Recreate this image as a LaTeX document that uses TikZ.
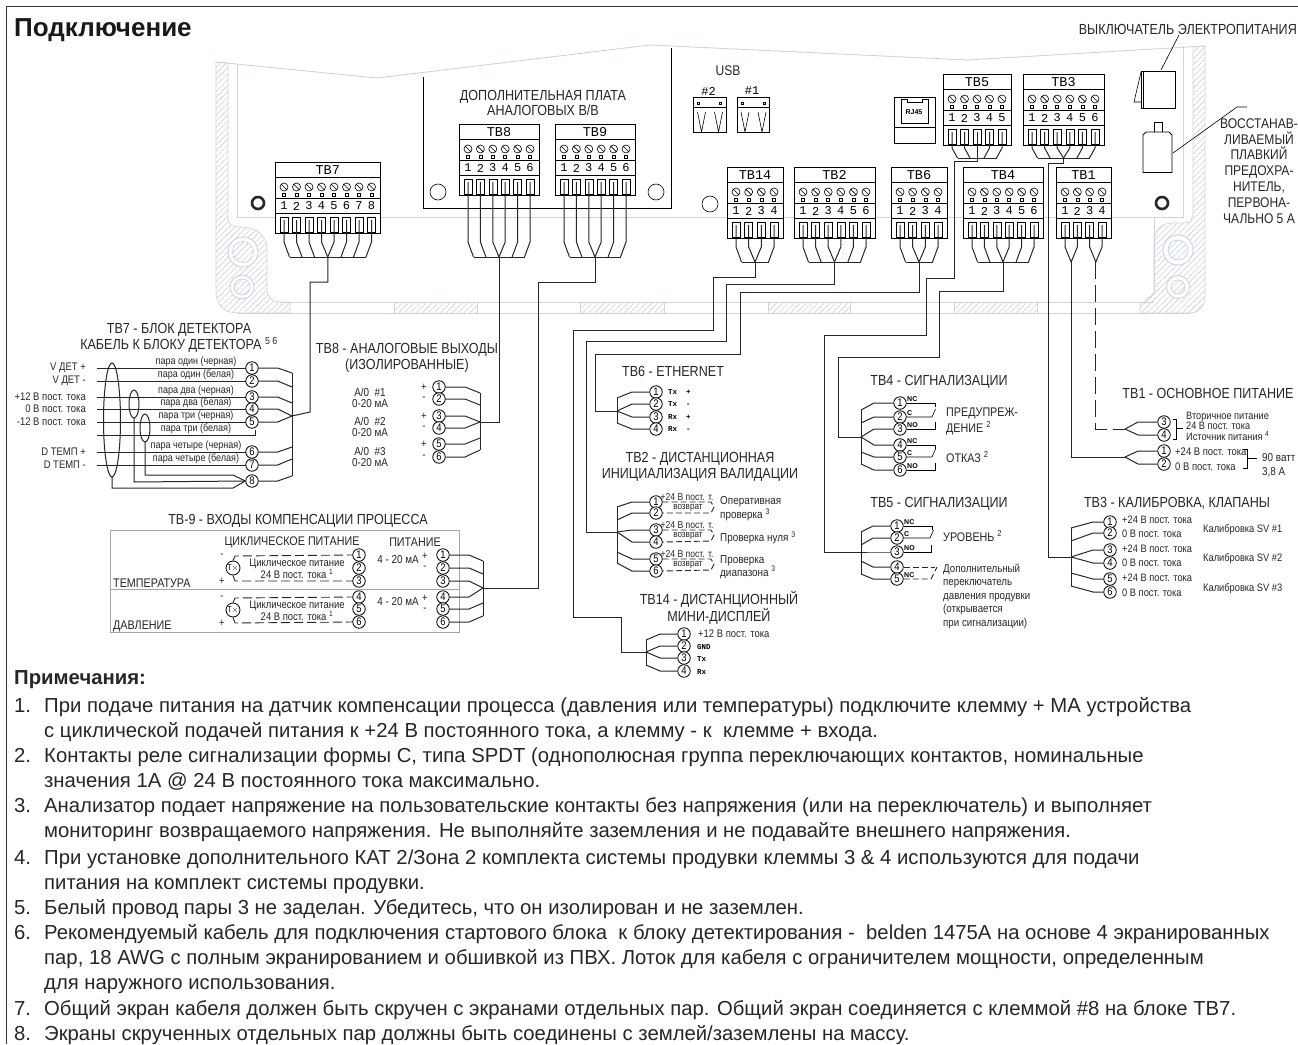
\documentclass[tikz,border=0pt]{standalone}
\usepackage{fontspec}
\setmainfont{Liberation Sans}
\newfontfamily\narrowfont[FakeStretch=0.86]{Liberation Sans}
\newfontfamily\tbfont{Liberation Mono}
\usetikzlibrary{calc,patterns.meta}
\definecolor{housing}{HTML}{CBD4DF}
\newcommand{\tbblock}[6]{%
	\pgfmathsetmacro{\tbpitch}{(#4-#3-18)/(#6-1)}
	\draw[tbline,fill=white] (#3,#5) rectangle (#4,#5+71);
	\draw[tbline] (#3,#5+15) -- (#4,#5+15) (#3,#5+36) -- (#4,#5+36) (#3,#5+51) -- (#4,#5+51);
	\node (#1) [tbtitle] at ({(#3+#4)/2},#5+8) {#2};
	\foreach \k in {1,...,#6} {
		\pgfmathsetmacro{\px}{#3+9+(\k-1)*\tbpitch}
		\draw[thinline] (\px,#5+25) circle [radius=4pt] (\px-2.8,#5+22.2) -- (\px+2.8,#5+27.8);
		\draw[thinline] (\px-1.5,#5+31.5) rectangle (\px+1.5,#5+34.5);
		\node (#1n\k) [tbnum] at (\px,#5+44) {\k};
		\draw[thinline] (\px-4,#5+55) rectangle (\px+4,#5+70);
		\coordinate (#1p\k) at (\px,#5+58);
	}
}
\newcommand{\tbfan}[4]{%
	\coordinate (#1c) at ($(#1p1)!.5!(#1p#2)$);
	\coordinate (#1b) at (#1c |- 0,#4);
	\pgfmathsetmacro{\tbmid}{(#2+1)/2}
	\foreach \k in {1,...,#2} {
		\pgfmathsetmacro{\off}{abs(\k-\tbmid)<1 ? (\tbmid-\k)*\tbpitch : (\k<\tbmid ? 5.5 : -5.5)}
		\draw[wire] (#1p\k) -- (#1p\k |- 0,#3) -- ++(\off,#4-#3);
	}
	\draw[wire] ($(#1p1 |- #1b)+(5.5,0)$) -- ($(#1p#2 |- #1b)+(-5.5,0)$);
}
\begin{document}
\begin{tikzpicture}[x=1pt,y=-1pt,
	tbline/.style={draw=black,line width=.9pt},
	thinline/.style={draw=black,line width=.6pt},
	wire/.style={draw=black!85,line width=1pt},
	dashwire/.style={draw=black!85,line width=.9pt,dash pattern=on 9pt off 4pt},
	shell/.style={draw=housing,line width=.9pt},
	hatch/.style={draw=housing,line width=.7pt,pattern={Lines[angle=45,distance=4.2pt,line width=.6pt]},pattern color=housing},
	tbtitle/.style={font=\tbfont\fontsize{13.5}{14}\selectfont,inner sep=0pt},
	tbnum/.style={font=\tbfont\fontsize{12}{12}\selectfont,inner sep=0pt},
	term/.style={circle,draw=black,line width=.8pt,fill=white,inner sep=0pt,minimum size=12.5pt,font=\narrowfont\fontsize{11}{11}\selectfont},
	head/.style={font=\narrowfont\fontsize{14.6}{16}\selectfont,text=black!85,inner sep=0pt,align=center},
	wlabel/.style={font=\narrowfont\fontsize{11}{12}\selectfont,text=black!85,inner sep=0pt},
	pairlabel/.style={font=\narrowfont\fontsize{10.5}{11}\selectfont,text=black!85,inner sep=0pt},
	tinylabel/.style={font=\tbfont\bfseries\fontsize{7.5}{8}\selectfont,inner sep=0pt},
	note/.style={font=\fontsize{20.3}{22}\selectfont,text=black!85,inner sep=0pt,anchor=base west}]
	\useasboundingbox (0,0) rectangle (1298,1044);
	\draw[black!80,line width=1.3pt] (6.5,1044) -- (6.5,6.5) -- (1298,6.5);
	\node (title) [font=\bfseries\fontsize{26}{28}\selectfont,text=black!90,inner sep=0pt,anchor=base west] at (14,36) {Подключение};

	\draw[hatch] (216,62) -- (228,63) -- (228,218) .. controls (228,224) and (232,227) .. (240,227) .. controls (258,227) and (267,236) .. (267,250) -- (267,290) .. controls (267,297) and (272,302) .. (280,302) -- (290,302) -- (290,313) -- (238,313) .. controls (224,313) and (216,305) .. (216,292) -- cycle;
	\draw[hatch] (1205,46) -- (1193,47) -- (1193,212) .. controls (1193,220) and (1190,223) .. (1184,223) -- (1172,223) .. controls (1162,223) and (1154,230) .. (1154,242) -- (1154,293) -- (1140,305) -- (1140,313) -- (1190,313) .. controls (1200,313) and (1205,305) .. (1205,295) -- cycle;
	\foreach \xa/\xb in {394/477,580/664,768/850,954/1037}
		\draw[hatch] (\xa,302) rectangle (\xb,313);
	\draw[shell] (216,62) -- (377,78) -- (650,45) -- (967,60) -- (1205,46);
	\draw[shell] (238,313) -- (1190,313) (280,302) -- (1154,302);
	\draw[shell] (237,65) -- (237,217) -- (1183,217) -- (1183,46) (1154,217) -- (1154,293);
	\foreach \cx/\cy/\ra/\rb in {243/252/15/10.5,242/287/12/8,1178/250/15/10,1178/287/11.5/7} {
		\draw[shell,fill=white] (\cx,\cy) circle [radius=\ra pt];
		\draw[hatch] (\cx,\cy) circle [radius=\rb pt];
	}
	\foreach \cx in {258,1162}
		\draw[black!85,line width=2.6pt] (\cx,203) circle [radius=6pt];

	\draw[tbline] (423,77) -- (423,208) -- (671.5,208) -- (671.5,48);
	\foreach \cx/\cy in {438/192,656/192,710/204}
		\draw[thinline] (\cx,\cy) circle [radius=8pt];

	\node (usb) [wlabel,font=\narrowfont\fontsize{14}{15}\selectfont] at (728,71) {USB};
	\foreach \bx/\bl in {693.5/2,737/1} {
		\node (usb\bl) [tbnum] at (\bx+15,91) {\#\bl};
		\draw[thinline] (\bx,97) rectangle ++(32.5,35) (\bx,107) -- ++(32.5,0);
		\draw[thinline] (\bx+4,102) rectangle ++(2,2) (\bx+26,102) rectangle ++(2,2);
		\draw[thinline] (\bx+4,112) -- ++(4,20) -- ++(4,-20) (\bx+21,112) -- ++(4,20) -- ++(4,-20);
	}
	\draw[thinline] (894.5,97) rectangle (935,143) (894.5,127) -- (935,127);
	\draw[thinline] (901,99) -- (907,99) -- (907,102) -- (922,102) -- (922,99) -- (928,99) -- (928,123) -- (901,123) -- cycle;
	\node (rj) [tinylabel,font=\bfseries\fontsize{7}{8}\selectfont] at (914,112) {RJ45};

	\node (swlabel) [wlabel,font=\narrowfont\fontsize{14.6}{16}\selectfont,anchor=east] at (1297,29) {ВЫКЛЮЧАТЕЛЬ ЭЛЕКТРОПИТАНИЯ};
	\draw[tbline] (1141,71) rectangle (1175,108) (1143,71) -- (1143,108);
	\draw[thinline] (1141,72) -- (1134,102) -- (1141,102);
	\coordinate (swtop) at (1161,70);
	\draw[thinline] (1179,35) -- (swtop);
	\draw[tbline] (1143,172.5) -- (1143,135) -- (1146,132) -- (1169,132) -- (1172,135) -- (1172,172.5) -- cycle;
	\draw[tbline] (1154,132) -- (1154,122) -- (1162,122) -- (1162,132);
	\coordinate (fuse) at (1173,153);
	\draw[thinline] (1247,107) -- (1237,107) -- (fuse);
	\node (fuselabel) [wlabel,font=\narrowfont\fontsize{14}{15.9}\selectfont,align=center] at (1259,171) {ВОССТАНАВ-\\ЛИВАЕМЫЙ\\ПЛАВКИЙ\\ПРЕДОХРА-\\НИТЕЛЬ,\\ПЕРВОНА-\\ЧАЛЬНО 5 А};
	\node (optboard) [head,font=\narrowfont\fontsize{14.6}{15.5}\selectfont] at (543,103) {ДОПОЛНИТЕЛЬНАЯ ПЛАТА\\АНАЛОГОВЫХ В/В};

	\tbblock{tbseven}{TB7}{275}{380.5}{162}{8}
	\tbfan{tbseven}{8}{242}{257}
	\tbblock{tbeight}{TB8}{459}{539}{124}{6}
	\tbfan{tbeight}{6}{242}{257}
	\tbblock{tbnine}{TB9}{555}{635}{124}{6}
	\tbfan{tbnine}{6}{242}{257}
	\tbblock{tbfive}{TB5}{943}{1011}{74}{5}
	\tbfan{tbfive}{5}{148}{158}
	\tbblock{tbthree}{TB3}{1023}{1104}{74}{6}
	\tbfan{tbthree}{6}{148}{158}
	\tbblock{tbfourteen}{TB14}{727}{783}{167}{4}
	\tbfan{tbfourteen}{4}{247}{262}
	\tbblock{tbtwo}{TB2}{794}{875}{167}{6}
	\tbfan{tbtwo}{6}{247}{262}
	\tbblock{tbsix}{TB6}{891}{947}{167}{4}
	\tbfan{tbsix}{4}{247}{262}
	\tbblock{tbfour}{TB4}{963}{1043}{167}{6}
	\tbfan{tbfour}{6}{247}{262}
	\tbblock{tbone}{TB1}{1056}{1111}{167}{4}
	\coordinate (tbonea) at ($(tbonep1)!.5!(tbonep2)+(0,37)$);
	\coordinate (tboneb) at ($(tbonep3)!.5!(tbonep4)+(0,37)$);
	\draw[wire] (tbonep1) -- (tbonep1 |- 0,247) -- (tbonea) -- (tbonep2 |- 0,247) -- (tbonep2);
	\draw[wire] (tbonep3) -- (tbonep3 |- 0,247) -- (tboneb) -- (tbonep4 |- 0,247) -- (tbonep4);

	\node (seventitle) [head] at (179,338) {TB7 - БЛОК ДЕТЕКТОРА\\КАБЕЛЬ К БЛОКУ ДЕТЕКТОРА \textsuperscript{5 6}};
	\foreach \y/\k/\lab in {368/1/{V ДЕТ +},381/2/{V ДЕТ -},397/3/{+12 В пост. тока},409/4/{0 В пост. тока},422/5/{-12 В пост. тока},452/6/{D ТЕМП +},465/7/{D ТЕМП -}} {
		\node (dets\k) [wlabel,anchor=east] at (86,\y) {\lab};
		\coordinate (dete\k) at (97,\y);
	}
	\coordinate (detw) at (97,435);
	\coordinate (dethook) at (255,430);
	\draw[wire] (detw) -- (dethook |- detw) -- (dethook);
	\foreach \y/\k in {368/1,381/2,397/3,409/4,422/5,452/6,465/7}
		\draw[wire] (dete\k) -- (252,\y);
	\foreach \y/\k/\lab in {368/1/{пара один (черная)},381/2/{пара один (белая)},397/3/{пара два (черная)},409/4/{пара два (белая)},422/5/{пара три (черная)},452/6/{пара четыре (черная)},465/7/{пара четыре (белая)},481/8/{}} {
		\node (det\k) [term] at (252,\y) {\k};
		\node (detl\k) [pairlabel] at (196,\y-6) {\lab};
	}
	\node (detl9) [pairlabel] at (196,429) {пара три (белая)};
	\foreach \k/\ya in {1/373,2/387,3/403,6/447,7/459,8/476}
		\draw[wire] (det\k.east) -- ++(19,0) -- (292,\ya);
	\coordinate (detbus) at (292,416);
	\draw[wire] (292,373) -- (292,476);
	\foreach \k in {4,5}
		\draw[wire] (det\k.east) -- ++(19,0) -- (detbus);
	\draw[wire] (112,420) ellipse [x radius=8.5pt,y radius=57pt];
	\draw[wire] (134,404) ellipse [x radius=5pt,y radius=14pt];
	\draw[wire] (145,428) ellipse [x radius=5pt,y radius=14pt];
	\draw[wire] (112,477) -- (112,488) -- (233,488) -- (det8.west);
	\draw[wire] (134,418) -- (134,482) -- (det8.west);
	\draw[wire] (145,442) -- (145,475) -- (233,475) -- (det8.west);
	\draw[wire] (tbsevenb) -- (tbsevenb |- 0,282) -- (310,282) -- (310,412) -- (detbus);

	\node (eighttitle) [head] at (407,358) {TB8 - АНАЛОГОВЫЕ ВЫХОДЫ\\(ИЗОЛИРОВАННЫЕ)};
	\foreach \y/\k/\sg in {387/1/+,399/2/-,416/3/+,428/4/-,444/5/+,457/6/-} {
		\node (aout\k) [term] at (439,\y) {\k};
		\node (aouts\k) [wlabel] at (424,\y) {\sg};
	}
	\foreach \y/\k in {398/1,427/2,457/3}
		\node (aoname\k) [wlabel,align=center,font=\narrowfont\fontsize{11.5}{11.5}\selectfont] at (370,\y) {А/0 \ \#\k\\0-20 мА};
	\coordinate (aobus) at (480,422);
	\foreach \k/\ya in {1/393,2/405,3/422,4/422,5/438,6/450}
		\draw[wire] (aout\k.east) -- (465,0 |- aout\k) -- (480,\ya);
	\draw[wire] (480,393) -- (480,450);
	\draw[wire] (tbeightb) -- (tbeightb |- aobus) -- (aobus);

	\node (ninetitle) [head] at (298,521) {TB-9 - ВХОДЫ КОМПЕНСАЦИИ ПРОЦЕССА};
	\draw[draw=black!35,line width=.9pt] (110,530) rectangle (459,632) (110,589) -- (459,589);
	\node (cyc) [wlabel,font=\narrowfont\fontsize{12.5}{14}\selectfont] at (292,542) {ЦИКЛИЧЕСКОЕ ПИТАНИЕ};
	\node (pow) [wlabel,font=\narrowfont\fontsize{12.5}{14}\selectfont] at (415,542) {ПИТАНИЕ};
	\node (temp) [wlabel,font=\narrowfont\fontsize{12.5}{14}\selectfont,anchor=west] at (113,583) {ТЕМПЕРАТУРА};
	\node (press) [wlabel,font=\narrowfont\fontsize{12.5}{14}\selectfont,anchor=west] at (113,626) {ДАВЛЕНИЕ};
	\foreach \y/\k/\ya in {555/1/561,568/2/574,581/3/588,597/4/588,609/5/603,622/6/616} {
		\node (loop\k) [term] at (359,\y) {\k};
		\node (inp\k) [term] at (443,\y) {\k};
		\draw[wire] (inp\k.east) -- (469,\y) -- (483,\ya);
	}
	\draw[wire] (483,561) -- (483,616);
	\coordinate (ninebus) at (483,588);
	\draw[wire] (tbnineb) -- (tbnineb |- 0,282) -- (538,282) -- (538,588) -- (ninebus);
	\foreach \cy/\a/\b/\na in {568/1/3/a,610/4/6/b} {
		\node (tx\na) [term,font=\narrowfont\fontsize{8.5}{9}\selectfont,minimum size=14pt] at (233,\cy) {T\(\times\)};
		\draw[dashwire] (tx\na.north) -- (235,\cy-12) -- (loop\a.west);
		\draw[dashwire] (tx\na.south) -- (235,\cy+13) -- (loop\b.west);
		\node (txm\na) [wlabel] at (222,\cy-12) {-};
		\node (txp\na) [wlabel] at (222,\cy+13) {+};
		\node (txl\na) [wlabel,align=center,font=\narrowfont\fontsize{11}{11}\selectfont] at (297,\cy+1) {Циклическое питание\\24 В пост. тока \textsuperscript{1}};
		\node (txi\na) [wlabel,font=\narrowfont\fontsize{11.5}{12}\selectfont] at (398,\cy-8) {4 - 20 мА};
		\node (txa\na) [wlabel] at (425,\cy-12) {+};
		\node (txb\na) [wlabel] at (425,\cy) {-};
	}

	\node (sixtitle) [head] at (673,371) {TB6 - ETHERNET};
	\foreach \y/\k/\lab/\ya in {392/1/{Tx \ +}/398,404/2/{Tx \ -}/411,417/3/{Rx \ +}/411,429/4/{Rx \ -}/423} {
		\node (eth\k) [term] at (656,\y) {\k};
		\node (ethl\k) [tinylabel,anchor=west] at (668,\y) {\lab};
		\draw[wire] (eth\k.west) -- (632,\y) -- (617,\ya);
	}
	\draw[wire] (617,398) -- (617,423);
	\draw[wire] (tbsixb) -- (tbsixb |- 0,292) -- (740,292) -- (740,354) -- (595,354) -- (595,411) -- (617,411);

	\node (twotitle) [head] at (700,467) {TB2 - ДИСТАНЦИОННАЯ\\ИНИЦИАЛИЗАЦИЯ ВАЛИДАЦИИ};
	\foreach \y/\k/\ya in {502/1/507,513/2/520,530/3/532,542/4/532,559/5/552,571/6/563} {
		\node (val\k) [term] at (656,\y) {\k};
		\draw[wire] (val\k.west) -- (632,\y) -- (617,\ya);
	}
	\foreach \ya/\a/\b/\na in {502/1/2/a,530/3/4/b,559/5/6/c} {
		\draw[dashwire,dash pattern=on 6pt off 3pt] (val\a.east) -- (711,\ya) -- (714,\ya+5) -- (711,\ya+11) -- (val\b.east);
		\node (vala\na) [pairlabel,font=\narrowfont\fontsize{10}{10}\selectfont] at (687,\ya-5) {+24 В пост. т.};
		\node (valb\na) [pairlabel,font=\narrowfont\fontsize{9.5}{10}\selectfont] at (688,\ya+6) {возврат};
	}
	\draw[wire] (617,507) -- (617,563);
	\draw[wire] (tbtwob) -- (tbtwob |- 0,284) -- (726,284) -- (726,341) -- (586,341) -- (586,532) -- (617,532);
	\node (valt1) [wlabel,anchor=west,align=left,font=\narrowfont\fontsize{11.5}{14}\selectfont] at (720,509) {Оперативная\\проверка \textsuperscript{3}};
	\node (valt2) [wlabel,anchor=west,font=\narrowfont\fontsize{11.5}{14}\selectfont] at (720,538) {Проверка нуля \textsuperscript{3}};
	\node (valt3) [wlabel,anchor=west,align=left,font=\narrowfont\fontsize{11.5}{13}\selectfont] at (720,567) {Проверка\\диапазона \textsuperscript{3}};

	\node (fourteentitle) [head] at (719,608) {TB14 - ДИСТАНЦИОННЫЙ\\МИНИ-ДИСПЛЕЙ};
	\foreach \y/\k/\ya in {634/1/640,646/2/652,658/3/652,671/4/665} {
		\node (disp\k) [term] at (684,\y) {\k};
		\draw[wire] (disp\k.west) -- (660,\y) -- (646,\ya);
	}
	\draw[wire] (646,640) -- (646,665);
	\draw[wire] (tbfourteenb) -- (tbfourteenb |- 0,277) -- (713,277) -- (713,330) -- (573,330) -- (573,617) -- (621,617) -- (621,652) -- (646,652);
	\node (displ1) [wlabel,anchor=west] at (698,634) {+12 В пост. тока};
	\foreach \k/\lab in {2/GND,3/Tx,4/Rx}
		\node (displ\k) [tinylabel,anchor=west] at (697,{622+\k*12.4}) {\lab};

	\node (fourtitle) [head] at (939,382) {TB4 - СИГНАЛИЗАЦИИ};
	\foreach \y/\k/\ya/\ct in {403/1/410/NC,417/2/423/C,429/3/437/NO,445/4/437/NC,457/5/452/C,470/6/464/NO} {
		\node (alm\k) [term] at (900,\y) {\k};
		\node (almt\k) [tinylabel,font=\bfseries\fontsize{7}{8}\selectfont,anchor=west] at (907,\y-3.5) {\ct};
		\draw[wire] (alm\k.west) -- (874,\y) -- (861,\ya);
	}
	\foreach \a/\b/\c in {1/2/3,4/5/6} {
		\draw[thinline] (alm\a.east) -- (935,0 |- alm\a) -- ++(0,4);
		\draw[thinline] (alm\b.east) -- (932,0 |- alm\b) -- ++(3.5,-8);
		\draw[thinline] (alm\c.east) -- (935,0 |- alm\c) -- ++(0,-7);
	}
	\draw[wire] (861,410) -- (861,464);
	\draw[wire] (tbfourb) -- (tbfourb |- 0,291) -- (939,291) -- (939,357) -- (838,357) -- (838,437) -- (861,437);
	\node (almw) [wlabel,anchor=west,align=left,font=\narrowfont\fontsize{12.5}{16}\selectfont] at (946,421) {ПРЕДУПРЕЖ-\\ДЕНИЕ \textsuperscript{2}};
	\node (almf) [wlabel,anchor=west,font=\narrowfont\fontsize{12.5}{14}\selectfont] at (946,457) {ОТКАЗ \textsuperscript{2}};

	\node (fivetitle) [head] at (939,504) {TB5 - СИГНАЛИЗАЦИИ};
	\foreach \y/\k/\ya/\ct in {526/1/532/NC,538/2/545/C,552/3/552/NO,567/4/561/{},579/5/574/NC} {
		\node (lev\k) [term] at (897,\y) {\k};
		\node (levt\k) [tinylabel,font=\bfseries\fontsize{7}{8}\selectfont,anchor=west] at (904,\y-3.5) {\ct};
		\draw[wire] (lev\k.west) -- (873,\y) -- (861,\ya);
	}
	\draw[wire] (861,532) -- (861,574);
	\draw[thinline] (lev1.east) -- (932,526) -- (932,530);
	\draw[thinline] (lev2.east) -- (930,538) -- (933.5,530);
	\draw[thinline] (lev3.east) -- (931,552) -- (931,545);
	\draw[dashwire,dash pattern=on 6pt off 3pt] (lev4.east) -- (935,567);
	\draw[dashwire,dash pattern=on 6pt off 3pt] (lev5.east) -- (931,579) -- (937,567);
	\draw[wire] (tbfiveb) -- (tbfiveb |- 0,161) -- (954,161) -- (954,278) -- (926,278) -- (926,335) -- (824,335) -- (824,552) -- (861,552);
	\node (levu) [wlabel,anchor=west,font=\narrowfont\fontsize{12.5}{14}\selectfont] at (943,536) {УРОВЕНЬ \textsuperscript{2}};
	\node (levn) [wlabel,anchor=north west,align=left,font=\narrowfont\fontsize{11.3}{13.4}\selectfont] at (943,564) {Дополнительный\\переключатель\\давления продувки\\(открывается\\при сигнализации)};

	\node (onetitle) [head] at (1208,393) {TB1 - ОСНОВНОЕ ПИТАНИЕ};
	\foreach \y/\k/\ya in {422/3/429,435/4/429,451/1/457,464/2/457} {
		\node (main\k) [term] at (1164,\y) {\k};
		\draw[wire] (main\k.west) -- (1138,\y) -- (1125,\ya);
	}
	\draw[wire] (tbonea) -- (tbonea |- 0,457) -- (1125,457);
	\draw[dashwire,dash pattern=on 17pt off 6pt] (tboneb) -- (tboneb |- 0,429) -- (1125,429);
	\draw[thinline] (1173,419) -- (1176,419) -- (1176,439) -- (1173,439) (1176,428) -- (1183,428);
	\node (mainl) [wlabel,anchor=west,align=left,font=\narrowfont\fontsize{10.7}{10.6}\selectfont] at (1186,426) {Вторичное питание\\24 В пост. тока\\Источник питания \textsuperscript{4}};
	\node (mainp) [wlabel,anchor=west] at (1175,452) {+24 В пост. тока};
	\node (mainz) [wlabel,anchor=west] at (1175,467) {0 В пост. тока};
	\draw[thinline] (1243,449) -- (1247,449) -- (1247,468) -- (1243,468) (1247,458) -- (1257,458);
	\node (mainw) [wlabel,anchor=west,align=left,font=\narrowfont\fontsize{11.5}{14.5}\selectfont] at (1262,465) {90 ватт\\3,8 А};

	\node (threetitle) [head] at (1177,503) {TB3 - КАЛИБРОВКА, КЛАПАНЫ};
	\foreach \y/\ly/\k/\ya/\lab in {522/520/1/528/{+24 В пост. тока},533/534/2/541/{0 В пост. тока},550/549/3/557/{+24 В пост. тока},563/563/4/557/{0 В пост. тока},579/578/5/573/{+24 В пост. тока},592/593/6/586/{0 В пост. тока}} {
		\node (cal\k) [term] at (1110,\y) {\k};
		\node (call\k) [wlabel,anchor=west,font=\narrowfont\fontsize{10.8}{12}\selectfont] at (1122,\ly) {\lab};
		\draw[wire] (cal\k.west) -- (1093,\y) -- (1071,\ya);
	}
	\foreach \y/\k in {530/1,559/2,589/3}
		\node (sv\k) [wlabel,anchor=west,font=\narrowfont\fontsize{10.8}{12}\selectfont] at (1203,\y) {Калибровка SV \#\k};
	\draw[wire] (1071,528) -- (1071,586);
	\draw[wire] (tbthreeb) -- (tbthreeb |- 0,163) -- (1048,163) -- (1048,557) -- (1071,557);

	\node (notehead) [note,font=\bfseries\fontsize{20.3}{22}\selectfont] at (14,684) {Примечания:};
	\foreach \y/\num/\txt [count=\i] in {
		712/1./{При подаче питания на датчик компенсации процесса (давления или температуры) подключите клемму + МА устройства},
		737//{с циклической подачей питания к +24 В постоянного тока, а клемму - к \ клемме + входа.},
		762/2./{Контакты реле сигнализации формы С, типа SPDT (однополюсная группа переключающих контактов, номинальные},
		787//{значения 1А @ 24 В постоянного тока максимально.},
		812/3./{Анализатор подает напряжение на пользовательские контакты без напряжения (или на переключатель) и выполняет},
		837//{мониторинг возвращаемого напряжения. Не выполняйте заземления и не подавайте внешнего напряжения.},
		864/4./{При установке дополнительного КАТ 2/Зона 2 комплекта системы продувки клеммы 3 \& 4 используются для подачи},
		889//{питания на комплект системы продувки.},
		914/5./{Белый провод пары 3 не заделан. Убедитесь, что он изолирован и не заземлен.},
		939/6./{Рекомендуемый кабель для подключения стартового блока \ к блоку детектирования - \ belden 1475A на основе 4 экранированных},
		964//{пар, 18 AWG с полным экранированием и обшивкой из ПВХ. Лоток для кабеля с ограничителем мощности, определенным},
		989//{для наружного использования.},
		1015/7./{Общий экран кабеля должен быть скручен с экранами отдельных пар. Общий экран соединяется с клеммой \#8 на блоке ТВ7.},
		1040/8./{Экраны скрученных отдельных пар должны быть соединены с землей/заземлены на массу.}} {
		\node (noten\i) [note] at (14,\y) {\num};
		\node (notet\i) [note] at (44,\y) {\txt};
	}
\end{tikzpicture}
\end{document}
